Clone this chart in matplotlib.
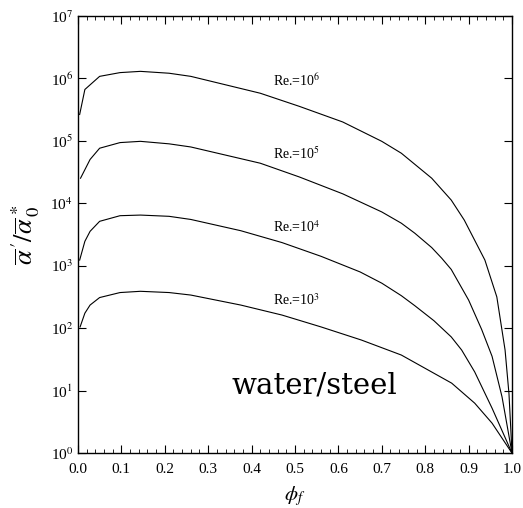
import matplotlib
matplotlib.use("Agg")
import matplotlib.pyplot as plt
from matplotlib.ticker import MultipleLocator, NullLocator
import numpy as np

plt.rcParams['font.family'] = ['Liberation Serif', 'DejaVu Serif']
plt.rcParams['mathtext.fontset'] = 'stix'

# phi_f sample positions and log10 of the ratio for each Reynolds number
phi_re6 = [0.004, 0.016, 0.05, 0.097, 0.144, 0.21, 0.26, 0.42, 0.51, 0.61, 0.70, 0.745,
           0.815, 0.86, 0.89, 0.9375, 0.965, 0.984, 0.993, 1.0]
log_re6 = [5.42, 5.82, 6.03, 6.09, 6.11, 6.08, 6.03, 5.76, 5.55, 5.30, 4.99, 4.80,
           4.40, 4.05, 3.73, 3.09, 2.50, 1.65, 0.95, 0.0]

phi_re5 = [0.006, 0.028, 0.05, 0.097, 0.144, 0.21, 0.26, 0.42, 0.51, 0.61, 0.70, 0.745,
           0.776, 0.815, 0.838, 0.86, 0.90, 0.93, 0.954, 0.977, 1.0]
log_re5 = [4.40, 4.70, 4.88, 4.97, 4.99, 4.95, 4.90, 4.64, 4.42, 4.15, 3.86, 3.68,
           3.52, 3.29, 3.12, 2.94, 2.45, 1.98, 1.55, 0.90, 0.0]

phi_re4 = [0.004, 0.016, 0.028, 0.05, 0.097, 0.144, 0.21, 0.26, 0.375, 0.47, 0.56, 0.65,
           0.70, 0.745, 0.776, 0.82, 0.86, 0.884, 0.914, 0.954, 1.0]
log_re4 = [3.09, 3.39, 3.55, 3.71, 3.80, 3.81, 3.79, 3.74, 3.56, 3.37, 3.15, 2.90,
           2.72, 2.52, 2.36, 2.12, 1.86, 1.65, 1.30, 0.72, 0.0]

phi_re3 = [0.005, 0.016, 0.028, 0.05, 0.097, 0.144, 0.21, 0.26, 0.375, 0.47, 0.56, 0.653,
           0.745, 0.861, 0.914, 0.954, 1.0]
log_re3 = [2.02, 2.24, 2.37, 2.49, 2.57, 2.59, 2.57, 2.53, 2.37, 2.21, 2.02, 1.81,
           1.57, 1.12, 0.80, 0.48, 0.0]

curve_labels = ['Re.=10$^{6}$', 'Re.=10$^{5}$', 'Re.=10$^{4}$', 'Re.=10$^{3}$']
label_phi = [0.449, 0.449, 0.449, 0.449]
label_log = [5.87, 4.70, 3.54, 2.37]

xticks = [0.0, 0.1, 0.2, 0.3, 0.4, 0.5, 0.6, 0.7, 0.8, 0.9, 1.0]
xticklabels = ['0.0', '0.1', '0.2', '0.3', '0.4', '0.5', '0.6', '0.7', '0.8', '0.9', '1.0']
ytick_exps = [0, 1, 2, 3, 4, 5, 6, 7]

fig = plt.figure(figsize=(5.23, 5.08), dpi=100)
ax = fig.add_axes([0.149, 0.108, 0.830, 0.861])

for p, l in [(phi_re6, log_re6), (phi_re5, log_re5), (phi_re4, log_re4), (phi_re3, log_re3)]:
    ax.plot(p, 10 ** np.array(l), color='black', lw=0.8)

for t, px, ly in zip(curve_labels, label_phi, label_log):
    ax.text(px, 10 ** ly, t, fontsize=10, ha='left', va='baseline')

ax.text(0.544, 10 ** 1.09, 'water/steel', fontsize=21, ha='center', va='center',
        family=['DejaVu Serif'])

ax.set_yscale('log')
ax.set_xlim(0.0, 1.0)
ax.set_ylim(1, 1e7)
ax.set_xticks(xticks)
ax.set_xticklabels(xticklabels)
ax.set_yticks([10.0 ** e for e in ytick_exps])
ax.set_yticklabels(['10$^{%d}$' % e for e in ytick_exps])
ax.xaxis.set_minor_locator(MultipleLocator(0.02))
ax.yaxis.set_minor_locator(NullLocator())
ax.tick_params(which='both', direction='in', top=True, right=True, labelsize=11)
ax.tick_params(which='major', length=6, width=0.8)
ax.tick_params(which='minor', length=3, width=0.6)
ax.tick_params(axis='x', pad=7)

ax.set_xlabel(r'$\phi_f$', fontsize=15, labelpad=6)
ax.set_ylabel(r'$\overline{\alpha}^{\,\prime}/\overline{\alpha}^{\,*}_{\,0}$', fontsize=19, labelpad=6)

for s in ax.spines.values():
    s.set_linewidth(1.0)

fig.savefig('out.png', dpi=100)
